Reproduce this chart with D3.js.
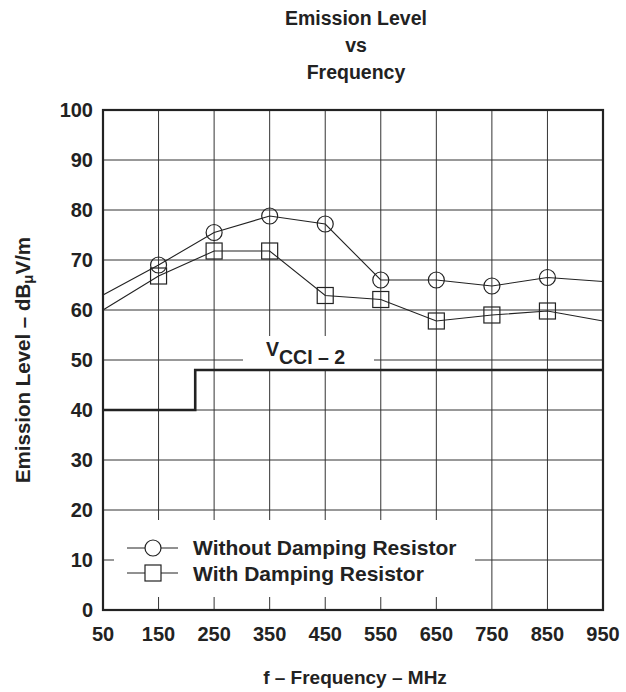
<!DOCTYPE html>
<html><head><meta charset="utf-8">
<script src="https://cdn.jsdelivr.net/npm/d3@7"></script>
<style>body{margin:0;background:#fff;} text{font-family:"Liberation Sans",Arial,sans-serif;font-weight:bold;fill:#222;}</style>
</head><body>
<svg id="c" width="626" height="692"></svg>
<script>
const freqs = [50,150,250,350,450,550,650,750,850,950];
const withoutDamping = [63, 69, 75.5, 78.8, 77.2, 66, 66, 64.8, 66.5, 65.7];
const withDamping = [60, 66.8, 71.8, 71.8, 62.9, 62.1, 57.8, 59, 59.8, 57.8];
const limitFreqs = [50, 216, 216, 950];
const limitVals = [40, 40, 48, 48];
const xTicks = [50,150,250,350,450,550,650,750,850,950];
const yTicks = [0,10,20,30,40,50,60,70,80,90,100];
const titleLines = ["Emission Level","vs","Frequency"];
const seriesNames = ["Without Damping Resistor","With Damping Resistor"];

const L=103,R=603,T=110,B=610;
const svg=d3.select("#c");
const x=d3.scaleLinear().domain([50,950]).range([L,R]);
const y=d3.scaleLinear().domain([0,100]).range([B,T]);

// grid
const g=svg.append("g");
g.selectAll(".vg").data(xTicks.slice(1,-1)).join("line")
 .attr("x1",d=>x(d)).attr("x2",d=>x(d)).attr("y1",T).attr("y2",B)
 .attr("stroke","#333").attr("stroke-width",1);
g.selectAll(".hg").data(yTicks.slice(1,-1)).join("line")
 .attr("x1",L).attr("x2",R).attr("y1",d=>y(d)).attr("y2",d=>y(d))
 .attr("stroke","#333").attr("stroke-width",1);

// white boxes (label + legend)
svg.append("rect").attr("x",243).attr("y",336).attr("width",131).attr("height",33).attr("fill","#fff");
svg.append("rect").attr("x",114).attr("y",520).attr("width",361).attr("height",77).attr("fill","#fff");

// frame
svg.append("rect").attr("x",L).attr("y",T).attr("width",R-L).attr("height",B-T)
 .attr("fill","none").attr("stroke","#222").attr("stroke-width",2.2);

// limit line
const lim=limitFreqs.map((f,i)=>[f,limitVals[i]]);
svg.append("path").attr("d",d3.line().x(d=>x(d[0])).y(d=>y(d[1]))(lim))
 .attr("fill","none").attr("stroke","#222").attr("stroke-width",2.6);

// series
const line=d3.line().x(d=>x(d[0])).y(d=>y(d[1]));
const s1=freqs.map((f,i)=>[f,withoutDamping[i]]);
const s2=freqs.map((f,i)=>[f,withDamping[i]]);
[s1,s2].forEach(s=>svg.append("path").attr("d",line(s)).attr("fill","none").attr("stroke","#222").attr("stroke-width",1.1));
svg.selectAll(".c1").data(s1.slice(1,-1)).join("circle")
 .attr("cx",d=>x(d[0])).attr("cy",d=>y(d[1])).attr("r",8)
 .attr("fill","none").attr("stroke","#222").attr("stroke-width",1.2);
svg.selectAll(".s2").data(s2.slice(1,-1)).join("rect")
 .attr("x",d=>x(d[0])-8).attr("y",d=>y(d[1])-8).attr("width",16).attr("height",16)
 .attr("fill","none").attr("stroke","#222").attr("stroke-width",1.2);

// VCCI label
const vl=svg.append("text").attr("x",266).attr("y",356).style("font-size","19.5px");
vl.append("tspan").text("V");
vl.append("tspan").attr("dy",8).text("CCI – 2");

// ticks
svg.selectAll(".yt").data(yTicks).join("text")
 .attr("x",93).attr("y",d=>y(d)).attr("dy","0.36em").attr("text-anchor","end")
 .style("font-size","20px").text(d=>d);
svg.selectAll(".xt").data(xTicks).join("text")
 .attr("x",d=>x(d)).attr("y",641).attr("text-anchor","middle")
 .style("font-size","20px").text(d=>d);

// titles
svg.selectAll(".tt").data(titleLines).join("text")
 .attr("x",356).attr("y",(d,i)=>25+i*27).attr("text-anchor","middle")
 .style("font-size","19.5px").text(d=>d);
svg.append("text").attr("x",355).attr("y",684).attr("text-anchor","middle")
 .style("font-size","19px").text("f – Frequency – MHz");
const yt=svg.append("text").attr("transform","translate(30,360) rotate(-90)").attr("text-anchor","middle").style("font-size","20.5px");
yt.append("tspan").text("Emission Level – dB");
yt.append("tspan").style("font-size","15px").attr("dy",3).text("μ");
yt.append("tspan").attr("dy",-3).text("V/m");

// legend
const lg=svg.append("g");
lg.append("line").attr("x1",127).attr("x2",178).attr("y1",548).attr("y2",548).attr("stroke","#222");
lg.append("circle").attr("cx",153).attr("cy",548).attr("r",8).attr("fill","#fff").attr("stroke","#222").attr("stroke-width",1.2);
lg.append("line").attr("x1",127).attr("x2",178).attr("y1",573).attr("y2",573).attr("stroke","#222");
lg.append("rect").attr("x",145).attr("y",565).attr("width",16).attr("height",16).attr("fill","#fff").attr("stroke","#222").attr("stroke-width",1.2);
lg.selectAll(".lt").data(seriesNames).join("text")
 .attr("x",193).attr("y",(d,i)=>555+i*26).style("font-size","21px").text(d=>d);
</script>
</body></html>
